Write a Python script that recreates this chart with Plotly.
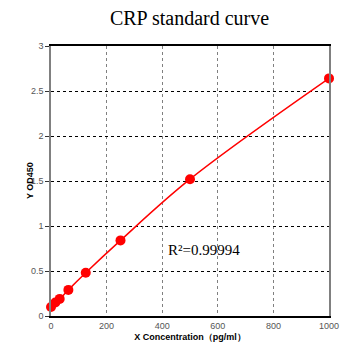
import plotly.graph_objects as go

concentration = [0, 15.6, 31.25, 62.5, 125, 250, 500, 1000]
od450 = [0.10, 0.15, 0.19, 0.29, 0.48, 0.84, 1.52, 2.64]
x_ticks = [0, 200, 400, 600, 800, 1000]
y_ticks = [0, 0.5, 1, 1.5, 2, 2.5, 3]
y_tick_text = ["0", "0.5", "1", "1.5", "2", "2.5", "3"]

fig = go.Figure()
fig.add_trace(go.Scatter(
    x=concentration, y=od450, mode="lines+markers",
    line=dict(color="#ff0000", width=1.5, shape="spline"),
    marker=dict(color="#ff0000", size=10),
    showlegend=False, cliponaxis=False,
))

fig.update_layout(
    width=351, height=353,
    margin=dict(l=51, r=21, t=46, b=34),
    paper_bgcolor="white", plot_bgcolor="white",
    title=dict(text="CRP standard curve", x=0.54, xanchor="center", y=0.95, yanchor="middle",
               font=dict(family="Liberation Serif", size=20, color="black")),
    xaxis=dict(range=[0, 1000], tickvals=x_ticks, ticks="", showline=True, linecolor="black",
               linewidth=1.5, mirror=True, showgrid=True, gridcolor="#808080", griddash="3px,3px",
               gridwidth=1, zeroline=False,
               tickfont=dict(family="Liberation Sans", size=9, color="#555555"),
               title=dict(text="X Concentration（pg/ml）", standoff=4,
                          font=dict(family="Liberation Sans", size=9, color="black", weight="bold"))),
    yaxis=dict(range=[0, 3], tickvals=y_ticks, ticktext=y_tick_text, ticks="outside", ticklen=4,
               tickcolor="#333333", showline=True, linecolor="#808080", linewidth=1.5, mirror=True,
               showgrid=True, gridcolor="black", griddash="3px,3px", gridwidth=1, zeroline=False,
               tickfont=dict(family="Liberation Sans", size=9, color="#555555")),
    annotations=[
        dict(text="R²=0.99994", x=552, y=0.73, xref="x", yref="y", showarrow=False,
             xanchor="center", yanchor="middle",
             font=dict(family="Liberation Serif", size=15, color="black")),
        dict(text="<b>Y OD450</b>", x=-21, y=0.5, xref="paper", yref="paper", xshift=0,
             showarrow=False, textangle=-90, xanchor="center", yanchor="middle",
             font=dict(family="Liberation Sans", size=9, color="black")),
    ],
)
# place y title about 21 px left of the plot area
fig.layout.annotations[1].update(x=0, xshift=-21)

fig.write_html("out.html")
